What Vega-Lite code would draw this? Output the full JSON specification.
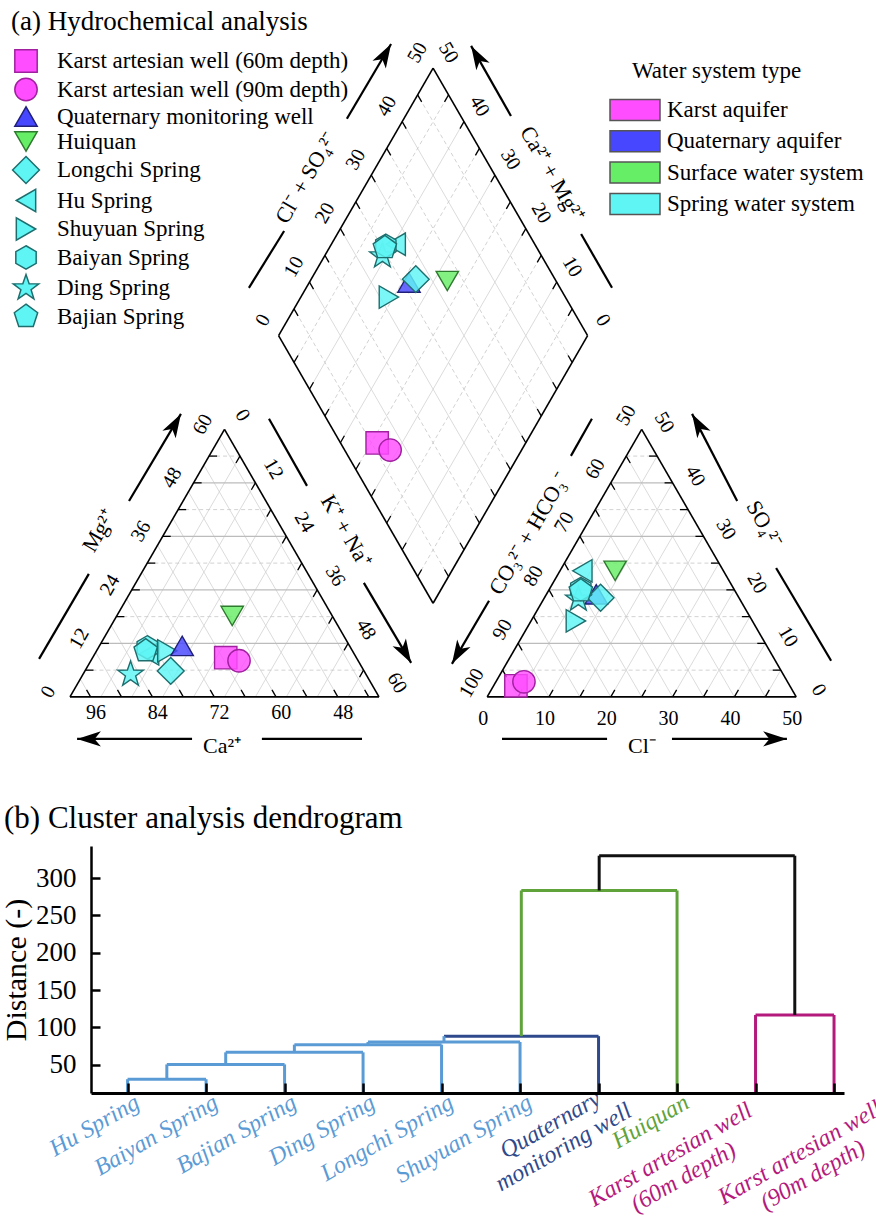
{
  "$schema": "https://vega.github.io/schema/vega-lite/v6.json",
  "padding": {"left": 1, "top": 8, "right": 0, "bottom": 0},
  "autosize": {"type": "pad"},
  "bounds": "flush",
  "spacing": 70,
  "resolve": {"scale": {"color": "independent"}, "legend": {"color": "independent"}},
  "config": {
    "view": {"stroke": null},
    "font": "Liberation Serif",
    "title": {"font": "Liberation Serif", "fontWeight": "normal", "color": "black"}
  },
  "datasets": {
    "outline": [
      {"x": 0, "y": 0, "x2": 100, "y2": 0}, {"x": 100, "y": 0, "x2": 50, "y2": 86.6}, {"x": 50, "y": 86.6, "x2": 0, "y2": 0},
      {"x": 135, "y": 0, "x2": 235, "y2": 0}, {"x": 235, "y": 0, "x2": 185, "y2": 86.6}, {"x": 185, "y": 86.6, "x2": 135, "y2": 0},
      {"x": 117.5, "y": 30.31, "x2": 67.5, "y2": 116.91}, {"x": 67.5, "y": 116.91, "x2": 117.5, "y2": 203.51},
      {"x": 117.5, "y": 203.51, "x2": 167.5, "y2": 116.91}, {"x": 167.5, "y": 116.91, "x2": 117.5, "y2": 30.31}
    ],
    "grid": [
      {"x": 5, "y": 8.66, "x2": 95, "y2": 8.66, "style": "minor"},
      {"x": 10, "y": 17.32, "x2": 90, "y2": 17.32, "style": "major"},
      {"x": 15, "y": 25.98, "x2": 85, "y2": 25.98, "style": "minor"},
      {"x": 20, "y": 34.64, "x2": 80, "y2": 34.64, "style": "major"},
      {"x": 25, "y": 43.3, "x2": 75, "y2": 43.3, "style": "minor"},
      {"x": 30, "y": 51.96, "x2": 70, "y2": 51.96, "style": "major"},
      {"x": 35, "y": 60.62, "x2": 65, "y2": 60.62, "style": "minor"},
      {"x": 40, "y": 69.28, "x2": 60, "y2": 69.28, "style": "major"},
      {"x": 45, "y": 77.94, "x2": 55, "y2": 77.94, "style": "minor"},
      {"x": 10, "y": 0, "x2": 55, "y2": 77.94, "style": "diag"},
      {"x": 20, "y": 0, "x2": 60, "y2": 69.28, "style": "diag"},
      {"x": 30, "y": 0, "x2": 65, "y2": 60.62, "style": "diag"},
      {"x": 40, "y": 0, "x2": 70, "y2": 51.96, "style": "diag"},
      {"x": 50, "y": 0, "x2": 75, "y2": 43.3, "style": "diag"},
      {"x": 60, "y": 0, "x2": 80, "y2": 34.64, "style": "diag"},
      {"x": 70, "y": 0, "x2": 85, "y2": 25.98, "style": "diag"},
      {"x": 80, "y": 0, "x2": 90, "y2": 17.32, "style": "diag"},
      {"x": 90, "y": 0, "x2": 95, "y2": 8.66, "style": "diag"},
      {"x": 6.67, "y": 0, "x2": 3.33, "y2": 5.77, "style": "diag"},
      {"x": 16.67, "y": 0, "x2": 8.33, "y2": 14.43, "style": "diag"},
      {"x": 26.67, "y": 0, "x2": 13.33, "y2": 23.09, "style": "diag"},
      {"x": 36.67, "y": 0, "x2": 18.33, "y2": 31.75, "style": "diag"},
      {"x": 46.67, "y": 0, "x2": 23.33, "y2": 40.41, "style": "diag"},
      {"x": 56.67, "y": 0, "x2": 28.33, "y2": 49.07, "style": "diag"},
      {"x": 66.67, "y": 0, "x2": 33.33, "y2": 57.73, "style": "diag"},
      {"x": 76.67, "y": 0, "x2": 38.33, "y2": 66.39, "style": "diag"},
      {"x": 86.67, "y": 0, "x2": 43.33, "y2": 75.05, "style": "diag"},
      {"x": 96.67, "y": 0, "x2": 48.33, "y2": 83.71, "style": "diag"},
      {"x": 140, "y": 8.66, "x2": 230, "y2": 8.66, "style": "minor"},
      {"x": 145, "y": 17.32, "x2": 225, "y2": 17.32, "style": "major"},
      {"x": 150, "y": 25.98, "x2": 220, "y2": 25.98, "style": "minor"},
      {"x": 155, "y": 34.64, "x2": 215, "y2": 34.64, "style": "major"},
      {"x": 160, "y": 43.3, "x2": 210, "y2": 43.3, "style": "minor"},
      {"x": 165, "y": 51.96, "x2": 205, "y2": 51.96, "style": "major"},
      {"x": 170, "y": 60.62, "x2": 200, "y2": 60.62, "style": "minor"},
      {"x": 175, "y": 69.28, "x2": 195, "y2": 69.28, "style": "major"},
      {"x": 180, "y": 77.94, "x2": 190, "y2": 77.94, "style": "minor"},
      {"x": 145, "y": 0, "x2": 190, "y2": 77.94, "style": "diag"},
      {"x": 155, "y": 0, "x2": 195, "y2": 69.28, "style": "diag"},
      {"x": 165, "y": 0, "x2": 200, "y2": 60.62, "style": "diag"},
      {"x": 175, "y": 0, "x2": 205, "y2": 51.96, "style": "diag"},
      {"x": 185, "y": 0, "x2": 210, "y2": 43.3, "style": "diag"},
      {"x": 195, "y": 0, "x2": 215, "y2": 34.64, "style": "diag"},
      {"x": 205, "y": 0, "x2": 220, "y2": 25.98, "style": "diag"},
      {"x": 215, "y": 0, "x2": 225, "y2": 17.32, "style": "diag"},
      {"x": 225, "y": 0, "x2": 230, "y2": 8.66, "style": "diag"},
      {"x": 145, "y": 0, "x2": 140, "y2": 8.66, "style": "diag"},
      {"x": 155, "y": 0, "x2": 145, "y2": 17.32, "style": "diag"},
      {"x": 165, "y": 0, "x2": 150, "y2": 25.98, "style": "diag"},
      {"x": 175, "y": 0, "x2": 155, "y2": 34.64, "style": "diag"},
      {"x": 185, "y": 0, "x2": 160, "y2": 43.3, "style": "diag"},
      {"x": 195, "y": 0, "x2": 165, "y2": 51.96, "style": "diag"},
      {"x": 205, "y": 0, "x2": 170, "y2": 60.62, "style": "diag"},
      {"x": 215, "y": 0, "x2": 175, "y2": 69.28, "style": "diag"},
      {"x": 225, "y": 0, "x2": 180, "y2": 77.94, "style": "diag"},
      {"x": 122.5, "y": 38.97, "x2": 72.5, "y2": 125.57, "style": "minor"},
      {"x": 127.5, "y": 47.63, "x2": 77.5, "y2": 134.23, "style": "diag"},
      {"x": 132.5, "y": 56.29, "x2": 82.5, "y2": 142.89, "style": "minor"},
      {"x": 137.5, "y": 64.95, "x2": 87.5, "y2": 151.55, "style": "diag"},
      {"x": 142.5, "y": 73.61, "x2": 92.5, "y2": 160.21, "style": "minor"},
      {"x": 147.5, "y": 82.27, "x2": 97.5, "y2": 168.87, "style": "diag"},
      {"x": 152.5, "y": 90.93, "x2": 102.5, "y2": 177.53, "style": "minor"},
      {"x": 157.5, "y": 99.59, "x2": 107.5, "y2": 186.19, "style": "diag"},
      {"x": 162.5, "y": 108.25, "x2": 112.5, "y2": 194.85, "style": "minor"},
      {"x": 112.5, "y": 38.97, "x2": 162.5, "y2": 125.57, "style": "minor"},
      {"x": 107.5, "y": 47.63, "x2": 157.5, "y2": 134.23, "style": "diag"},
      {"x": 102.5, "y": 56.29, "x2": 152.5, "y2": 142.89, "style": "minor"},
      {"x": 97.5, "y": 64.95, "x2": 147.5, "y2": 151.55, "style": "diag"},
      {"x": 92.5, "y": 73.61, "x2": 142.5, "y2": 160.21, "style": "minor"},
      {"x": 87.5, "y": 82.27, "x2": 137.5, "y2": 168.87, "style": "diag"},
      {"x": 82.5, "y": 90.93, "x2": 132.5, "y2": 177.53, "style": "minor"},
      {"x": 77.5, "y": 99.59, "x2": 127.5, "y2": 186.19, "style": "diag"},
      {"x": 72.5, "y": 108.25, "x2": 122.5, "y2": 194.85, "style": "minor"}
    ],
    "ticks": [
      {"x": 5, "y": 8.66, "x2": 7.6, "y2": 8.66}, {"x": 10, "y": 17.32, "x2": 12.6, "y2": 17.32},
      {"x": 15, "y": 25.98, "x2": 17.6, "y2": 25.98}, {"x": 20, "y": 34.64, "x2": 22.6, "y2": 34.64},
      {"x": 25, "y": 43.3, "x2": 27.6, "y2": 43.3}, {"x": 30, "y": 51.96, "x2": 32.6, "y2": 51.96},
      {"x": 35, "y": 60.62, "x2": 37.6, "y2": 60.62}, {"x": 40, "y": 69.28, "x2": 42.6, "y2": 69.28},
      {"x": 45, "y": 77.94, "x2": 47.6, "y2": 77.94},
      {"x": 55, "y": 77.94, "x2": 53.7, "y2": 75.69}, {"x": 60, "y": 69.28, "x2": 58.7, "y2": 67.03},
      {"x": 65, "y": 60.62, "x2": 63.7, "y2": 58.37}, {"x": 70, "y": 51.96, "x2": 68.7, "y2": 49.71},
      {"x": 75, "y": 43.3, "x2": 73.7, "y2": 41.05}, {"x": 80, "y": 34.64, "x2": 78.7, "y2": 32.39},
      {"x": 85, "y": 25.98, "x2": 83.7, "y2": 23.73}, {"x": 90, "y": 17.32, "x2": 88.7, "y2": 15.07},
      {"x": 95, "y": 8.66, "x2": 93.7, "y2": 6.41},
      {"x": 6.67, "y": 0, "x2": 5.37, "y2": 2.25}, {"x": 16.67, "y": 0, "x2": 15.37, "y2": 2.25},
      {"x": 26.67, "y": 0, "x2": 25.37, "y2": 2.25}, {"x": 36.67, "y": 0, "x2": 35.37, "y2": 2.25},
      {"x": 46.67, "y": 0, "x2": 45.37, "y2": 2.25}, {"x": 56.67, "y": 0, "x2": 55.37, "y2": 2.25},
      {"x": 66.67, "y": 0, "x2": 65.37, "y2": 2.25}, {"x": 76.67, "y": 0, "x2": 75.37, "y2": 2.25},
      {"x": 86.67, "y": 0, "x2": 85.37, "y2": 2.25}, {"x": 96.67, "y": 0, "x2": 95.37, "y2": 2.25},
      {"x": 145, "y": 0, "x2": 146.3, "y2": 2.25}, {"x": 155, "y": 0, "x2": 156.3, "y2": 2.25},
      {"x": 165, "y": 0, "x2": 166.3, "y2": 2.25}, {"x": 175, "y": 0, "x2": 176.3, "y2": 2.25},
      {"x": 185, "y": 0, "x2": 186.3, "y2": 2.25}, {"x": 195, "y": 0, "x2": 196.3, "y2": 2.25},
      {"x": 205, "y": 0, "x2": 206.3, "y2": 2.25}, {"x": 215, "y": 0, "x2": 216.3, "y2": 2.25},
      {"x": 225, "y": 0, "x2": 226.3, "y2": 2.25},
      {"x": 230, "y": 8.66, "x2": 227.4, "y2": 8.66}, {"x": 225, "y": 17.32, "x2": 222.4, "y2": 17.32},
      {"x": 220, "y": 25.98, "x2": 217.4, "y2": 25.98}, {"x": 215, "y": 34.64, "x2": 212.4, "y2": 34.64},
      {"x": 210, "y": 43.3, "x2": 207.4, "y2": 43.3}, {"x": 205, "y": 51.96, "x2": 202.4, "y2": 51.96},
      {"x": 200, "y": 60.62, "x2": 197.4, "y2": 60.62}, {"x": 195, "y": 69.28, "x2": 192.4, "y2": 69.28},
      {"x": 190, "y": 77.94, "x2": 187.4, "y2": 77.94},
      {"x": 140, "y": 8.66, "x2": 141.3, "y2": 6.41}, {"x": 145, "y": 17.32, "x2": 146.3, "y2": 15.07},
      {"x": 150, "y": 25.98, "x2": 151.3, "y2": 23.73}, {"x": 155, "y": 34.64, "x2": 156.3, "y2": 32.39},
      {"x": 160, "y": 43.3, "x2": 161.3, "y2": 41.05}, {"x": 165, "y": 51.96, "x2": 166.3, "y2": 49.71},
      {"x": 170, "y": 60.62, "x2": 171.3, "y2": 58.37}, {"x": 175, "y": 69.28, "x2": 176.3, "y2": 67.03},
      {"x": 180, "y": 77.94, "x2": 181.3, "y2": 75.69},
      {"x": 72.5, "y": 125.57, "x2": 73.8, "y2": 123.32}, {"x": 77.5, "y": 134.23, "x2": 78.8, "y2": 131.98},
      {"x": 82.5, "y": 142.89, "x2": 83.8, "y2": 140.64}, {"x": 87.5, "y": 151.55, "x2": 88.8, "y2": 149.3},
      {"x": 92.5, "y": 160.21, "x2": 93.8, "y2": 157.96}, {"x": 97.5, "y": 168.87, "x2": 98.8, "y2": 166.62},
      {"x": 102.5, "y": 177.53, "x2": 103.8, "y2": 175.28}, {"x": 107.5, "y": 186.19, "x2": 108.8, "y2": 183.94},
      {"x": 112.5, "y": 194.85, "x2": 113.8, "y2": 192.6},
      {"x": 162.5, "y": 125.57, "x2": 161.2, "y2": 123.32}, {"x": 157.5, "y": 134.23, "x2": 156.2, "y2": 131.98},
      {"x": 152.5, "y": 142.89, "x2": 151.2, "y2": 140.64}, {"x": 147.5, "y": 151.55, "x2": 146.2, "y2": 149.3},
      {"x": 142.5, "y": 160.21, "x2": 141.2, "y2": 157.96}, {"x": 137.5, "y": 168.87, "x2": 136.2, "y2": 166.62},
      {"x": 132.5, "y": 177.53, "x2": 131.2, "y2": 175.28}, {"x": 127.5, "y": 186.19, "x2": 126.2, "y2": 183.94},
      {"x": 122.5, "y": 194.85, "x2": 121.2, "y2": 192.6},
      {"x": 112.5, "y": 38.97, "x2": 113.8, "y2": 41.22}, {"x": 107.5, "y": 47.63, "x2": 108.8, "y2": 49.88},
      {"x": 102.5, "y": 56.29, "x2": 103.8, "y2": 58.54}, {"x": 97.5, "y": 64.95, "x2": 98.8, "y2": 67.2},
      {"x": 92.5, "y": 73.61, "x2": 93.8, "y2": 75.86}, {"x": 87.5, "y": 82.27, "x2": 88.8, "y2": 84.52},
      {"x": 82.5, "y": 90.93, "x2": 83.8, "y2": 93.18}, {"x": 77.5, "y": 99.59, "x2": 78.8, "y2": 101.84},
      {"x": 72.5, "y": 108.25, "x2": 73.8, "y2": 110.5},
      {"x": 122.5, "y": 38.97, "x2": 121.2, "y2": 41.22}, {"x": 127.5, "y": 47.63, "x2": 126.2, "y2": 49.88},
      {"x": 132.5, "y": 56.29, "x2": 131.2, "y2": 58.54}, {"x": 137.5, "y": 64.95, "x2": 136.2, "y2": 67.2},
      {"x": 142.5, "y": 73.61, "x2": 141.2, "y2": 75.86}, {"x": 147.5, "y": 82.27, "x2": 146.2, "y2": 84.52},
      {"x": 152.5, "y": 90.93, "x2": 151.2, "y2": 93.18}, {"x": 157.5, "y": 99.59, "x2": 156.2, "y2": 101.84},
      {"x": 162.5, "y": 108.25, "x2": 161.2, "y2": 110.5}
    ],
    "arrows": [
      {"x": -10.0, "y": 12.3, "x2": 6.1, "y2": 39.8},
      {"x": 19.1, "y": 63.4, "x2": 35.9, "y2": 91.6},
      {"x": 64.4, "y": 90.0, "x2": 76.7, "y2": 68.3},
      {"x": 95.1, "y": 36.9, "x2": 110.4, "y2": 11.0},
      {"x": 39.5, "y": -13.6, "x2": 2.3, "y2": -13.6},
      {"x": 62.1, "y": -13.6, "x2": 94.5, "y2": -13.6},
      {"x": 168.9, "y": 90.0, "x2": 162.1, "y2": 78.0},
      {"x": 135.6, "y": 31.1, "x2": 123.6, "y2": 10.7},
      {"x": 215.9, "y": 63.4, "x2": 201.3, "y2": 91.6},
      {"x": 228.5, "y": 41.7, "x2": 246.3, "y2": 11.7},
      {"x": 139.8, "y": -13.6, "x2": 173.8, "y2": -13.6},
      {"x": 194.8, "y": -13.6, "x2": 232.0, "y2": -13.6},
      {"x": 57.9, "y": 132.4, "x2": 69.3, "y2": 150.8},
      {"x": 89.6, "y": 187.1, "x2": 103.9, "y2": 211.3},
      {"x": 142.7, "y": 188.0, "x2": 129.8, "y2": 210.7},
      {"x": 165.4, "y": 149.8, "x2": 175.4, "y2": 132.4}
    ],
    "heads": [
      {"x": 35.9, "y": 91.6, "dir": 30}, {"x": 110.4, "y": 11.0, "dir": 150},
      {"x": 2.3, "y": -13.6, "dir": 270}, {"x": 123.6, "y": 10.7, "dir": 210},
      {"x": 201.3, "y": 91.6, "dir": 330}, {"x": 232.0, "y": -13.6, "dir": 90},
      {"x": 103.9, "y": 211.3, "dir": 30}, {"x": 129.8, "y": 210.7, "dir": 330}
    ],
    "ticklabels": [
      {"label": "0", "x": -7, "y": 1.6, "orient": "rise"}, {"label": "12", "x": 3, "y": 18.9, "orient": "rise"},
      {"label": "24", "x": 13, "y": 36.2, "orient": "rise"}, {"label": "36", "x": 23, "y": 53.6, "orient": "rise"},
      {"label": "48", "x": 33, "y": 70.9, "orient": "rise"}, {"label": "60", "x": 43, "y": 88.2, "orient": "rise"},
      {"label": "0", "x": 55.8, "y": 91.1, "orient": "fall"}, {"label": "12", "x": 65.8, "y": 73.8, "orient": "fall"},
      {"label": "24", "x": 75.8, "y": 56.5, "orient": "fall"}, {"label": "36", "x": 85.8, "y": 39.1, "orient": "fall"},
      {"label": "48", "x": 95.8, "y": 21.8, "orient": "fall"}, {"label": "60", "x": 105.8, "y": 4.5, "orient": "fall"},
      {"label": "96", "x": 8.4, "y": -5.2, "orient": "flat"}, {"label": "84", "x": 28.4, "y": -5.2, "orient": "flat"},
      {"label": "72", "x": 48.4, "y": -5.2, "orient": "flat"}, {"label": "60", "x": 68.4, "y": -5.2, "orient": "flat"},
      {"label": "48", "x": 88.4, "y": -5.2, "orient": "flat"},
      {"label": "0", "x": 133.7, "y": -7.2, "orient": "flat"}, {"label": "10", "x": 153.7, "y": -7.2, "orient": "flat"},
      {"label": "20", "x": 173.7, "y": -7.2, "orient": "flat"}, {"label": "30", "x": 193.7, "y": -7.2, "orient": "flat"},
      {"label": "40", "x": 213.7, "y": -7.2, "orient": "flat"}, {"label": "50", "x": 233.7, "y": -7.2, "orient": "flat"},
      {"label": "0", "x": 242.3, "y": 2.2, "orient": "fall"}, {"label": "10", "x": 232.3, "y": 19.5, "orient": "fall"},
      {"label": "20", "x": 222.3, "y": 36.8, "orient": "fall"}, {"label": "30", "x": 212.3, "y": 54.2, "orient": "fall"},
      {"label": "40", "x": 202.3, "y": 71.5, "orient": "fall"}, {"label": "50", "x": 192.3, "y": 88.8, "orient": "fall"},
      {"label": "100", "x": 130, "y": 4.5, "orient": "rise"}, {"label": "90", "x": 140, "y": 21.8, "orient": "rise"},
      {"label": "80", "x": 150, "y": 39.1, "orient": "rise"}, {"label": "70", "x": 160, "y": 56.5, "orient": "rise"},
      {"label": "60", "x": 170, "y": 73.8, "orient": "rise"}, {"label": "50", "x": 180, "y": 91.1, "orient": "rise"},
      {"label": "0", "x": 62.5, "y": 121.9, "orient": "rise"}, {"label": "10", "x": 72.5, "y": 139.2, "orient": "rise"},
      {"label": "20", "x": 82.5, "y": 156.6, "orient": "rise"}, {"label": "30", "x": 92.5, "y": 173.9, "orient": "rise"},
      {"label": "40", "x": 102.5, "y": 191.2, "orient": "rise"}, {"label": "50", "x": 112.5, "y": 208.5, "orient": "rise"},
      {"label": "0", "x": 172.5, "y": 121.9, "orient": "fall"}, {"label": "10", "x": 162.5, "y": 139.2, "orient": "fall"},
      {"label": "20", "x": 152.5, "y": 156.6, "orient": "fall"}, {"label": "30", "x": 142.5, "y": 173.9, "orient": "fall"},
      {"label": "40", "x": 132.5, "y": 191.2, "orient": "fall"}, {"label": "50", "x": 122.5, "y": 208.5, "orient": "fall"}
    ],
    "axistitles": [
      {"label": "Mg²⁺", "x": 9.4, "y": 53.7, "orient": "rise"},
      {"label": "K⁺ + Na⁺", "x": 89.3, "y": 53.7, "orient": "fall"},
      {"label": "Ca²⁺", "x": 49.2, "y": -15.9, "orient": "flat"},
      {"label": "CO₃²⁻ + HCO₃⁻", "x": 148.5, "y": 52.8, "orient": "rise"},
      {"label": "SO₄²⁻", "x": 224.6, "y": 56.0, "orient": "fall"},
      {"label": "Cl⁻", "x": 185.1, "y": -15.9, "orient": "flat"},
      {"label": "Cl⁻ + SO₄²⁻", "x": 76.4, "y": 168.0, "orient": "rise"},
      {"label": "Ca²⁺ + Mg²⁺", "x": 156.0, "y": 169.3, "orient": "fall"}
    ],
    "samples": [
      {"sample": "Karst artesian well (60m depth)", "type": "Karst aquifer", "x": 50.4, "y": 12.7},
      {"sample": "Karst artesian well (90m depth)", "type": "Karst aquifer", "x": 54.7, "y": 11.7},
      {"sample": "Hu Spring", "type": "Spring water system", "x": 25.6, "y": 13.9},
      {"sample": "Shuyuan Spring", "type": "Spring water system", "x": 31.5, "y": 14.9},
      {"sample": "Quaternary monitoring well", "type": "Quaternary aquifer", "x": 36.3, "y": 16.5},
      {"sample": "Longchi Spring", "type": "Spring water system", "x": 32.6, "y": 8.4},
      {"sample": "Huiquan", "type": "Surface water system", "x": 52.5, "y": 26.2},
      {"sample": "Ding Spring", "type": "Spring water system", "x": 19.6, "y": 7.3},
      {"sample": "Baiyan Spring", "type": "Spring water system", "x": 25.0, "y": 16.0},
      {"sample": "Bajian Spring", "type": "Spring water system", "x": 24.5, "y": 14.9},
      {"sample": "Karst artesian well (60m depth)", "type": "Karst aquifer", "x": 144.3, "y": 3.6},
      {"sample": "Karst artesian well (90m depth)", "type": "Karst aquifer", "x": 146.9, "y": 4.9},
      {"sample": "Hu Spring", "type": "Spring water system", "x": 165.8, "y": 40.8},
      {"sample": "Shuyuan Spring", "type": "Spring water system", "x": 163.7, "y": 24.6},
      {"sample": "Quaternary monitoring well", "type": "Quaternary aquifer", "x": 170.3, "y": 33.2},
      {"sample": "Longchi Spring", "type": "Spring water system", "x": 171.7, "y": 32.1},
      {"sample": "Huiquan", "type": "Surface water system", "x": 176.4, "y": 40.8},
      {"sample": "Ding Spring", "type": "Spring water system", "x": 164.5, "y": 31.6},
      {"sample": "Baiyan Spring", "type": "Spring water system", "x": 165.3, "y": 34.9},
      {"sample": "Bajian Spring", "type": "Spring water system", "x": 165.3, "y": 34.3},
      {"sample": "Karst artesian well (60m depth)", "type": "Karst aquifer", "x": 99.4, "y": 82.2},
      {"sample": "Karst artesian well (90m depth)", "type": "Karst aquifer", "x": 103.6, "y": 79.9},
      {"sample": "Hu Spring", "type": "Spring water system", "x": 105.4, "y": 146.5},
      {"sample": "Shuyuan Spring", "type": "Spring water system", "x": 103.2, "y": 129.4},
      {"sample": "Quaternary monitoring well", "type": "Quaternary aquifer", "x": 109.7, "y": 134.1},
      {"sample": "Longchi Spring", "type": "Spring water system", "x": 111.9, "y": 135.2},
      {"sample": "Huiquan", "type": "Surface water system", "x": 122.1, "y": 134.6},
      {"sample": "Ding Spring", "type": "Spring water system", "x": 101.1, "y": 142.7},
      {"sample": "Baiyan Spring", "type": "Spring water system", "x": 102.2, "y": 146.0},
      {"sample": "Bajian Spring", "type": "Spring water system", "x": 101.9, "y": 145.4}
    ],
    "dendro": [
      {"x": 1, "y": 12, "x2": 1, "y2": 30.5, "grp": "spring"},
      {"x": 2, "y": 12, "x2": 2, "y2": 30.5, "grp": "spring"},
      {"x": 3, "y": 12, "x2": 3, "y2": 50.3, "grp": "spring"},
      {"x": 4, "y": 12, "x2": 4, "y2": 66.5, "grp": "spring"},
      {"x": 5, "y": 12, "x2": 5, "y2": 76.8, "grp": "spring"},
      {"x": 6, "y": 12, "x2": 6, "y2": 80.3, "grp": "spring"},
      {"x": 7, "y": 12, "x2": 7, "y2": 88.2, "grp": "quaternary"},
      {"x": 8, "y": 12, "x2": 8, "y2": 283.4, "grp": "surface"},
      {"x": 9, "y": 12, "x2": 9, "y2": 116.6, "grp": "karst"},
      {"x": 10, "y": 12, "x2": 10, "y2": 116.6, "grp": "karst"},
      {"x": 1, "y": 30.5, "x2": 2, "y2": 30.5, "grp": "spring"},
      {"x": 1.5, "y": 50.3, "x2": 3, "y2": 50.3, "grp": "spring"},
      {"x": 2.25, "y": 66.5, "x2": 4, "y2": 66.5, "grp": "spring"},
      {"x": 3.125, "y": 76.8, "x2": 5, "y2": 76.8, "grp": "spring"},
      {"x": 4.0625, "y": 80.3, "x2": 6, "y2": 80.3, "grp": "spring"},
      {"x": 5.031, "y": 88.2, "x2": 7, "y2": 88.2, "grp": "quaternary"},
      {"x": 6.016, "y": 283.4, "x2": 8, "y2": 283.4, "grp": "surface"},
      {"x": 9, "y": 116.6, "x2": 10, "y2": 116.6, "grp": "karst"},
      {"x": 7.008, "y": 330, "x2": 9.5, "y2": 330, "grp": "root"},
      {"x": 1.5, "y": 30.5, "x2": 1.5, "y2": 50.3, "grp": "spring"},
      {"x": 2.25, "y": 50.3, "x2": 2.25, "y2": 66.5, "grp": "spring"},
      {"x": 3.125, "y": 66.5, "x2": 3.125, "y2": 76.8, "grp": "spring"},
      {"x": 4.0625, "y": 76.8, "x2": 4.0625, "y2": 80.3, "grp": "spring"},
      {"x": 5.031, "y": 80.3, "x2": 5.031, "y2": 88.2, "grp": "spring"},
      {"x": 6.016, "y": 88.2, "x2": 6.016, "y2": 283.4, "grp": "surface"},
      {"x": 7.008, "y": 283.4, "x2": 7.008, "y2": 330, "grp": "root"},
      {"x": 9.5, "y": 116.6, "x2": 9.5, "y2": 330, "grp": "root"}
    ],
    "leaves": [
      {"x": 1, "name": "Hu Spring", "grp": "spring"},
      {"x": 2, "name": "Baiyan Spring", "grp": "spring"},
      {"x": 3, "name": "Bajian Spring", "grp": "spring"},
      {"x": 4, "name": "Ding Spring", "grp": "spring"},
      {"x": 5, "name": "Longchi Spring", "grp": "spring"},
      {"x": 6, "name": "Shuyuan Spring", "grp": "spring"},
      {"x": 7, "name": "Quaternary\nmonitoring well", "grp": "quaternary"},
      {"x": 8, "name": "Huiquan", "grp": "surface"},
      {"x": 9, "name": "Karst artesian well\n(60m depth)", "grp": "karst"},
      {"x": 10, "name": "Karst artesian well\n(90m depth)", "grp": "karst"}
    ]
  },
  "vconcat": [
    {
      "width": 784,
      "height": 740,
      "title": {"text": "(a) Hydrochemical analysis", "anchor": "start", "frame": "group", "dx": -80, "fontSize": 27, "offset": -21, "baseline": "alphabetic"},
      "encoding": {
        "x": {"field": "x", "type": "quantitative", "scale": {"domain": [6.8, 260.5], "nice": false, "zero": false}, "axis": null},
        "y": {"field": "y", "type": "quantitative", "scale": {"domain": [-25.6, 213.9], "nice": false, "zero": false}, "axis": null}
      },
      "layer": [
        {"data": {"name": "grid"}, "transform": [{"filter": "datum.style === 'diag'"}],
         "mark": {"type": "rule", "color": "#d2d2d2", "strokeWidth": 0.8},
         "encoding": {"x2": {"field": "x2"}, "y2": {"field": "y2"}}},
        {"data": {"name": "grid"}, "transform": [{"filter": "datum.style === 'minor'"}],
         "mark": {"type": "rule", "color": "#c6c6c6", "strokeWidth": 0.8, "strokeDash": [4, 3]},
         "encoding": {"x2": {"field": "x2"}, "y2": {"field": "y2"}}},
        {"data": {"name": "grid"}, "transform": [{"filter": "datum.style === 'major'"}],
         "mark": {"type": "rule", "color": "#bcbcbc", "strokeWidth": 1.1},
         "encoding": {"x2": {"field": "x2"}, "y2": {"field": "y2"}}},
        {"data": {"name": "outline"},
         "mark": {"type": "rule", "color": "black", "strokeWidth": 1.6},
         "encoding": {"x2": {"field": "x2"}, "y2": {"field": "y2"}}},
        {"data": {"name": "ticks"},
         "mark": {"type": "rule", "color": "black", "strokeWidth": 1.3},
         "encoding": {"x2": {"field": "x2"}, "y2": {"field": "y2"}}},
        {"data": {"name": "arrows"},
         "mark": {"type": "rule", "color": "black", "strokeWidth": 2.2},
         "encoding": {"x2": {"field": "x2"}, "y2": {"field": "y2"}}},
        {"data": {"name": "heads"},
         "mark": {"type": "point", "shape": "M0,0L0.55,1.7L0,1.25L-0.55,1.7Z", "filled": true, "color": "black", "opacity": 1, "size": 784},
         "encoding": {"angle": {"field": "dir", "type": "quantitative", "scale": null}}},
        {"data": {"name": "ticklabels"}, "transform": [{"filter": "datum.orient === 'flat'"}],
         "mark": {"type": "text", "fontSize": 20, "color": "black", "align": "center", "baseline": "middle"},
         "encoding": {"text": {"field": "label"}}},
        {"data": {"name": "ticklabels"}, "transform": [{"filter": "datum.orient === 'rise'"}],
         "mark": {"type": "text", "fontSize": 20, "color": "black", "align": "center", "baseline": "middle", "angle": 300},
         "encoding": {"text": {"field": "label"}}},
        {"data": {"name": "ticklabels"}, "transform": [{"filter": "datum.orient === 'fall'"}],
         "mark": {"type": "text", "fontSize": 20, "color": "black", "align": "center", "baseline": "middle", "angle": 60},
         "encoding": {"text": {"field": "label"}}},
        {"data": {"name": "axistitles"}, "transform": [{"filter": "datum.orient === 'flat'"}],
         "mark": {"type": "text", "fontSize": 22, "color": "black", "align": "center", "baseline": "middle"},
         "encoding": {"text": {"field": "label"}}},
        {"data": {"name": "axistitles"}, "transform": [{"filter": "datum.orient === 'rise'"}],
         "mark": {"type": "text", "fontSize": 22, "color": "black", "align": "center", "baseline": "middle", "angle": 300},
         "encoding": {"text": {"field": "label"}}},
        {"data": {"name": "axistitles"}, "transform": [{"filter": "datum.orient === 'fall'"}],
         "mark": {"type": "text", "fontSize": 22, "color": "black", "align": "center", "baseline": "middle", "angle": 60},
         "encoding": {"text": {"field": "label"}}},
        {"data": {"name": "samples"},
         "mark": {"type": "point", "filled": true, "size": 0},
         "encoding": {
           "color": {"field": "type", "type": "nominal",
             "scale": {"domain": ["Karst aquifer", "Quaternary aquifer", "Surface water system", "Spring water system"], "range": ["#ff4dff", "#4747ff", "#66ee66", "#5ff5f5"]},
             "legend": {"orient": "none", "legendX": 541, "legendY": 23.5, "title": "Water system type",
               "titleFont": "Liberation Serif", "titleFontSize": 23, "titleFontWeight": "normal", "titleColor": "black", "titlePadding": 14,
               "labelFont": "Liberation Serif", "labelFontSize": 23, "labelColor": "black", "labelOffset": 8, "labelLimit": 500,
               "rowPadding": 4.3, "symbolSize": 625, "symbolType": "M-2.84,-0.84L1.16,-0.84L1.16,0.84L-2.84,0.84Z",
               "symbolStrokeColor": "#555555", "symbolStrokeWidth": 1.5, "symbolOpacity": 1}}
         }},
        {"data": {"name": "samples"},
         "mark": {"type": "point", "filled": true, "size": 500, "strokeWidth": 1.4, "fillOpacity": 0.82, "opacity": 1},
         "encoding": {
           "shape": {"field": "sample", "type": "nominal",
             "scale": {
               "domain": ["Karst artesian well (60m depth)", "Karst artesian well (90m depth)", "Quaternary monitoring well", "Huiquan", "Longchi Spring", "Hu Spring", "Shuyuan Spring", "Baiyan Spring", "Ding Spring", "Bajian Spring"],
               "range": ["square", "circle", "triangle-up", "triangle-down", "M0,-1.2L1.2,0L0,1.2L-1.2,0Z", "triangle-left", "triangle-right",
                 "M0,-1.05L0.91,-0.525L0.91,0.525L0,1.05L-0.91,0.525L-0.91,-0.525Z",
                 "M0,-1.2L0.282,-0.389L1.141,-0.371L0.456,0.149L0.706,0.971L0,0.48L-0.706,0.971L-0.456,0.149L-1.141,-0.371L-0.282,-0.389Z",
                 "M0,-1.1L1.046,-0.34L0.647,0.89L-0.647,0.89L-1.046,-0.34Z"]
             },
             "legend": {"orient": "none", "legendX": -77, "legendY": 13, "title": null,
               "labelFont": "Liberation Serif", "labelFontSize": 23, "labelColor": "black", "labelOffset": 19, "labelLimit": 500,
               "rowPadding": -1.5, "symbolSize": 500, "symbolStrokeWidth": 1.5, "symbolOpacity": 1}},
           "fill": {"field": "sample", "type": "nominal",
             "scale": {
               "domain": ["Karst artesian well (60m depth)", "Karst artesian well (90m depth)", "Quaternary monitoring well", "Huiquan", "Longchi Spring", "Hu Spring", "Shuyuan Spring", "Baiyan Spring", "Ding Spring", "Bajian Spring"],
               "range": ["#ff4dff", "#ff4dff", "#4747ff", "#66ee66", "#5ff5f5", "#5ff5f5", "#5ff5f5", "#5ff5f5", "#5ff5f5", "#5ff5f5"]
             },
             "legend": {"orient": "none", "legendX": -77, "legendY": 13, "title": null,
               "labelFont": "Liberation Serif", "labelFontSize": 23, "labelColor": "black", "labelOffset": 19, "labelLimit": 500,
               "rowPadding": -1.5, "symbolSize": 500, "symbolStrokeWidth": 1.5, "symbolOpacity": 1}},
           "stroke": {"field": "sample", "type": "nominal",
             "scale": {
               "domain": ["Karst artesian well (60m depth)", "Karst artesian well (90m depth)", "Quaternary monitoring well", "Huiquan", "Longchi Spring", "Hu Spring", "Shuyuan Spring", "Baiyan Spring", "Ding Spring", "Bajian Spring"],
               "range": ["#a0209f", "#a0209f", "#20207a", "#2e7a2e", "#1f6e6e", "#1f6e6e", "#1f6e6e", "#1f6e6e", "#1f6e6e", "#1f6e6e"]
             },
             "legend": null}
         }}
      ]
    },
    {
      "width": 753,
      "height": 247,
      "title": {"text": "(b) Cluster analysis dendrogram", "anchor": "start", "frame": "group", "dx": -87, "fontSize": 31, "offset": -13, "baseline": "alphabetic"},
      "layer": [
        {"data": {"name": "dendro"},
         "mark": {"type": "rule", "strokeWidth": 3},
         "encoding": {
           "x": {"field": "x", "type": "quantitative", "scale": {"domain": [0.534, 10.127], "nice": false, "zero": false},
             "axis": {"values": [1, 2, 3, 4, 5, 6, 7, 8, 9, 10], "labels": false, "domainColor": "black", "domainWidth": 3,
               "tickColor": "black", "tickWidth": 2.5, "tickSize": -10, "grid": false, "title": null, "zindex": 1}},
           "y": {"field": "y", "type": "quantitative", "scale": {"domain": [12, 343], "nice": false, "zero": false},
             "axis": {"values": [50, 100, 150, 200, 250, 300], "labelFont": "Liberation Serif", "labelFontSize": 27, "labelColor": "black",
               "labelPadding": 24, "domainColor": "black", "domainWidth": 2.5, "tickColor": "black", "tickWidth": 2.5, "tickSize": -9,
               "grid": false, "title": "Distance (-)", "titleFont": "Liberation Serif", "titleFontSize": 30, "titleFontWeight": "normal",
               "titleColor": "black", "titlePadding": 4, "zindex": 1}},
           "x2": {"field": "x2"}, "y2": {"field": "y2"},
           "color": {"field": "grp", "type": "nominal",
             "scale": {"domain": ["spring", "quaternary", "surface", "karst", "root"], "range": ["#5b9bd5", "#2f4a8c", "#5fa33a", "#b4197c", "#111111"]},
             "legend": null}
         }},
        {"data": {"name": "leaves"},
         "encoding": {
           "x": {"field": "x", "type": "quantitative"},
           "y": {"datum": 12, "type": "quantitative"},
           "text": {"field": "name"},
           "color": {"field": "grp", "type": "nominal", "legend": null}
         },
         "layer": [
           {"transform": [{"filter": "datum.x <= 6 || datum.x === 8"}],
            "mark": {"type": "text", "angle": 330, "align": "right", "baseline": "middle", "font": "Liberation Serif", "fontStyle": "italic", "fontSize": 24, "xOffset": 10, "yOffset": 8}},
           {"transform": [{"filter": "datum.x === 7"}],
            "mark": {"type": "text", "angle": 330, "align": "center", "baseline": "middle", "font": "Liberation Serif", "fontStyle": "italic", "fontSize": 24, "lineBreak": "\n", "lineHeight": 26, "xOffset": -48, "yOffset": 32}},
           {"transform": [{"filter": "datum.x === 9"}],
            "mark": {"type": "text", "angle": 330, "align": "center", "baseline": "middle", "font": "Liberation Serif", "fontStyle": "italic", "fontSize": 24, "lineBreak": "\n", "lineHeight": 26, "xOffset": -85, "yOffset": 62}},
           {"transform": [{"filter": "datum.x === 10"}],
            "mark": {"type": "text", "angle": 330, "align": "center", "baseline": "middle", "font": "Liberation Serif", "fontStyle": "italic", "fontSize": 24, "lineBreak": "\n", "lineHeight": 26, "xOffset": -34, "yOffset": 60}}
         ]}
      ]
    }
  ]
}
